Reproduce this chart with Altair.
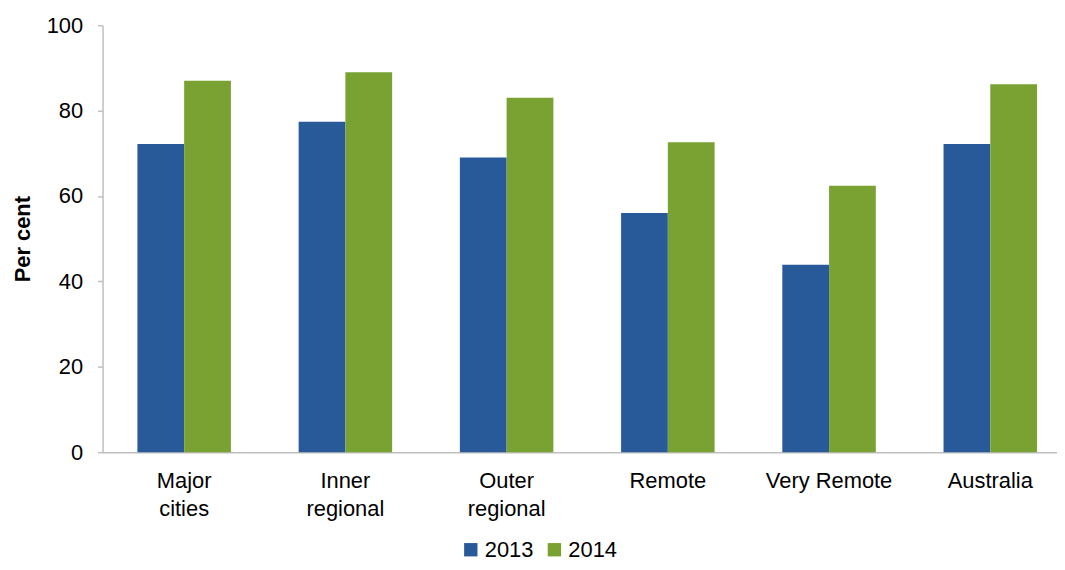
import altair as alt
import pandas as pd

categories = ["Major\ncities", "Inner\nregional", "Outer\nregional", "Remote", "Very Remote", "Australia"]
years = ["2013", "2014"]
values_2013 = [72.2, 77.4, 69.0, 56.0, 43.9, 72.2]
values_2014 = [87.0, 89.0, 83.0, 72.6, 62.4, 86.2]

rows = []
for c, a, b in zip(categories, values_2013, values_2014):
    rows.append({"region": c, "year": "2013", "value": a})
    rows.append({"region": c, "year": "2014", "value": b})
df = pd.DataFrame(rows)

FONT = "Liberation Sans"

chart = alt.Chart(df).mark_bar().encode(
    x=alt.X("region:N", sort=categories,
            scale=alt.Scale(paddingInner=0.42, paddingOuter=0.17, align=0.636),
            axis=alt.Axis(title=None, labelAngle=0, ticks=False, domainColor="#BFBFBF",
                          domainWidth=1.5, labelFontSize=22, labelFont=FONT, labelColor="#000000",
                          labelPadding=18, labelLineHeight=29,
                          labelExpr="split(datum.label, '\\n')")),
    xOffset=alt.XOffset("year:N", sort=years, scale=alt.Scale(paddingInner=0, paddingOuter=0)),
    y=alt.Y("value:Q", scale=alt.Scale(domain=[0, 100]),
            axis=alt.Axis(title="Per cent", values=[0, 20, 40, 60, 80, 100], grid=False,
                          domainColor="#BFBFBF", domainWidth=1.5, tickColor="#BFBFBF",
                          tickSize=5, tickWidth=1.5, labelFontSize=22, labelFont=FONT,
                          labelColor="#000000", labelPadding=15, titleFontSize=22,
                          titleFont=FONT, titleFontWeight="bold", titleColor="#000000",
                          titlePadding=12)),
    color=alt.Color("year:N", sort=years,
                    scale=alt.Scale(domain=years, range=["#285A9A", "#79A232"]),
                    legend=alt.Legend(title=None, orient="none", direction="horizontal",
                                      legendX=359, legendY=516, symbolType="square",
                                      symbolSize=180, symbolStrokeWidth=0, labelFontSize=22,
                                      labelFont=FONT, labelColor="#000000", labelOffset=3,
                                      columnPadding=10, symbolOpacity=1)),
).properties(
    width=959, height=429,
    autosize=alt.AutoSizeParams(type="none"),
    padding={"left": 95, "top": 16, "right": 0, "bottom": 109},
).configure_view(stroke=None)

chart.save("out.html", embed_options={"renderer": "svg", "actions": False})
